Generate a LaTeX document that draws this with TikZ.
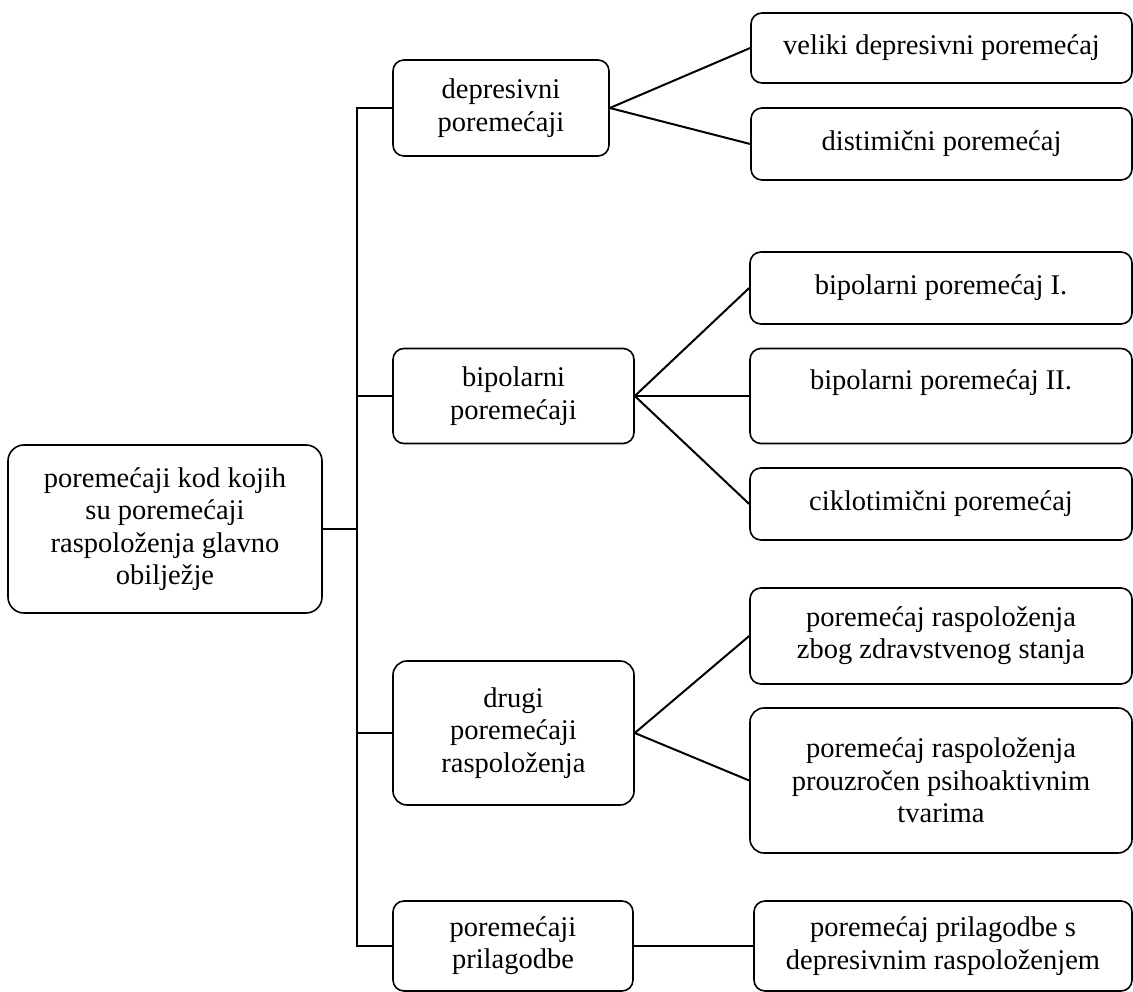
\documentclass[tikz,border=0pt]{standalone}
\usepackage{fontspec}
\setmainfont{Liberation Serif}
\begin{document}
\begin{tikzpicture}[x=1pt,y=-1pt,
  box/.style={draw, line width=1.6pt, rounded corners=11pt, align=center, inner sep=0pt,
    font=\fontsize{28.5}{32.3}\selectfont},
  link/.style={line width=2pt}]
\useasboundingbox (0,0) rectangle (1133,992);
% root
\node[box, rounded corners=16pt, minimum width=314pt, minimum height=168pt] (root) at (165,529)
  {poremećaji kod kojih\\su poremećaji\\raspoloženja glavno\\obilježje};
% middle column
\node[box, minimum width=216pt, minimum height=96pt] (d1) at (501,108) {depresivni\\poremećaji};
\node[box, minimum width=241pt, minimum height=95pt] (d2) at (513.5,396) {bipolarni\\poremećaji};
\node[box, rounded corners=14pt, minimum width=241pt, minimum height=144pt] (d3) at (513.5,733) {drugi\\poremećaji\\raspoloženja};
\node[box, minimum width=240pt, minimum height=90pt] (d4) at (513,946) {poremećaji\\prilagodbe};
% right column
\node[box, minimum width=381pt, minimum height=70pt] (r1) at (941.5,48) {veliki depresivni poremećaj};
\node[box, minimum width=381pt, minimum height=72pt] (r2) at (941.5,144) {distimični poremećaj};
\node[box, minimum width=382pt, minimum height=72pt] (r3) at (941,288) {bipolarni poremećaj I.};
\node[box, minimum width=382pt, minimum height=95pt] (r4) at (941,396) {bipolarni poremećaj II.\\\mbox{}};
\node[box, minimum width=382pt, minimum height=72pt] (r5) at (941,504) {ciklotimični poremećaj};
\node[box, minimum width=382pt, minimum height=96pt] (r6) at (941,636) {poremećaj raspoloženja\\zbog zdravstvenog stanja};
\node[box, rounded corners=14pt, minimum width=382pt, minimum height=145pt] (r7) at (941,780.5) {poremećaj raspoloženja\\prouzročen psihoaktivnim\\tvarima};
\node[box, minimum width=378pt, minimum height=90pt] (r8) at (943,946) {poremećaj prilagodbe s\\depresivnim raspoloženjem};
% trunk
\coordinate (tTop) at (357,108);
\coordinate (tBot) at (357,946);
\coordinate (tMid) at (357,529);
\draw[link] (d1.west) -- (tTop) -- (tBot) -- (d4.west);
\draw[link] (root.east) -- (tMid);
\draw[link] (d2.west) -- (d2.west -| tTop);
\draw[link] (d3.west) -- (d3.west -| tTop);
% branches
\draw[link] (d1.east) -- (r1.west);
\draw[link] (d1.east) -- (r2.west);
\draw[link] (d2.east) -- (r3.west);
\draw[link] (d2.east) -- (r4.west);
\draw[link] (d2.east) -- (r5.west);
\draw[link] (d3.east) -- (r6.west);
\draw[link] (d3.east) -- (r7.west);
\draw[link] (d4.east) -- (r8.west);
\end{tikzpicture}
\end{document}
